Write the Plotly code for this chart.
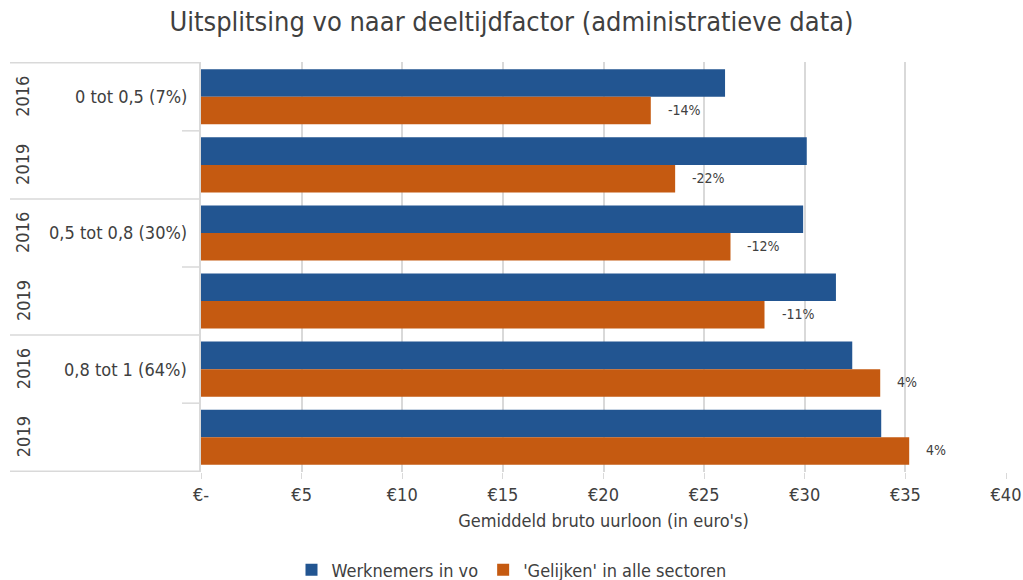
import plotly.graph_objects as go

groups = ["0 tot 0,5 (7%)", "0,5 tot 0,8 (30%)", "0,8 tot 1 (64%)"]
years = ["2016", "2019"]
werknemers_vo = [26.04, 30.10, 29.92, 31.55, 32.36, 33.80]
gelijken = [22.35, 23.56, 26.31, 28.00, 33.75, 35.19]
verschil_labels = ["-14%", "-22%", "-12%", "-11%", "4%", "4%"]
tick_vals = [0, 5, 10, 15, 20, 25, 30, 35, 40]
tick_text = ["€-", "€5", "€10", "€15", "€20", "€25", "€30", "€35", "€40"]

cats = [f"{g}|{y}" for g in groups for y in years]

FONT = "DejaVu Sans Condensed, Open Sans, sans-serif"
TXT = "#404040"
BLUE = "#225591"
ORANGE = "#C55A11"
LINE = "#D9D9D9"

fig = go.Figure()
fig.add_trace(go.Bar(y=cats, x=werknemers_vo, orientation="h", name="Werknemers in vo",
                     marker=dict(color=BLUE, line=dict(width=0))))
fig.add_trace(go.Bar(y=cats, x=gelijken, orientation="h", name="'Gelijken' in alle sectoren",
                     marker=dict(color=ORANGE, line=dict(width=0))))

# data labels next to orange bars
for c, v, t in zip(cats, gelijken, verschil_labels):
    fig.add_annotation(x=v, y=c, text=t, showarrow=False, xanchor="left", xshift=15,
                       yshift=-13, font=dict(family=FONT, size=14, color=TXT))

# left two-level category labels
x_year = (23 - 201) / 805
x_group = (189 - 201) / 805
x_line_start = (10 - 201) / 805
x_short_start = (182 - 201) / 805
for gi, g in enumerate(groups):
    fig.add_annotation(xref="paper", x=x_group, y=cats[gi * 2], text=g, showarrow=False,
                       xanchor="right", font=dict(family=FONT, size=18, color=TXT))
    for yi, yr in enumerate(years):
        fig.add_annotation(xref="paper", x=x_year, y=cats[gi * 2 + yi], text=yr, showarrow=False,
                           xanchor="center", textangle=-90,
                           font=dict(family=FONT, size=18, color=TXT))
    fig.add_shape(type="line", xref="paper", x0=x_line_start, x1=0,
                  y0=gi * 2 + 1.5, y1=gi * 2 + 1.5, line=dict(color=LINE, width=1.5))
    fig.add_shape(type="line", xref="paper", x0=x_short_start, x1=0,
                  y0=gi * 2 + 0.5, y1=gi * 2 + 0.5, line=dict(color=LINE, width=1.5))
fig.add_shape(type="line", xref="paper", x0=x_line_start, x1=0, y0=-0.5, y1=-0.5,
              line=dict(color=LINE, width=1.5))

fig.update_layout(
    width=1023, height=580,
    margin=dict(l=201, r=17, t=62, b=108, autoexpand=False),
    paper_bgcolor="white", plot_bgcolor="white",
    title=dict(text="Uitsplitsing vo naar deeltijdfactor (administratieve data)",
               x=0.5, xref="container", xanchor="center", y=0.962, yref="container",
               yanchor="middle", font=dict(family=FONT, size=27, color=TXT)),
    barmode="group", bargap=0.19, bargroupgap=0,
    showlegend=True,
    legend=dict(orientation="h", x=0.5, xref="container", xanchor="center", y=0.017,
                yref="container", yanchor="middle",
                font=dict(family=FONT, size=18, color=TXT), traceorder="normal"),
    font=dict(family=FONT, color=TXT),
)
fig.update_xaxes(range=[0, 40], tickvals=tick_vals, ticktext=tick_text, showgrid=True,
                 gridcolor=LINE, gridwidth=1.5, zeroline=False, ticks="outside", ticklen=6,
                 tickcolor=LINE, automargin=False,
                 tickfont=dict(family=FONT, size=18, color=TXT),
                 title=dict(text="Gemiddeld bruto uurloon (in euro's)", standoff=10,
                            font=dict(family=FONT, size=18, color=TXT)))
fig.update_yaxes(autorange="reversed", showticklabels=False, showline=True, linecolor=LINE,
                 linewidth=1.5, ticks="", automargin=False,
                 categoryorder="array", categoryarray=cats)

fig.write_html("out.html", config={"displayModeBar": False},
               post_script="document.body.style.margin='0';")
